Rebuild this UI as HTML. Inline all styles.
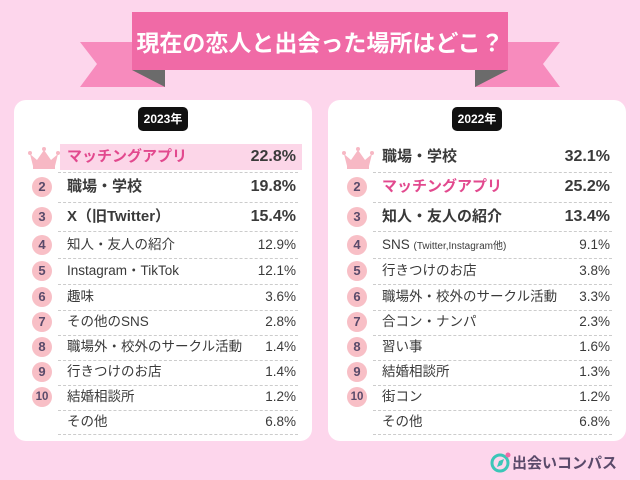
<!DOCTYPE html>
<html><head><meta charset="utf-8"><style>
*{margin:0;padding:0;box-sizing:border-box}
body{width:640px;height:480px;background:#fdd6ec;position:relative;overflow:hidden;font-family:"Liberation Sans","Noto Sans CJK JP",sans-serif;color:#3a3a3a}
.panel{position:absolute;top:100px;width:298px;height:341px;background:#fff;border-radius:12px}
.badge{position:absolute;top:107px;width:50px;height:24px;background:#111;color:#fff;border-radius:5px;font-size:12px;font-weight:bold;text-align:center;line-height:24px}
.lab{position:absolute;white-space:nowrap}
.pct{position:absolute;text-align:right;white-space:nowrap}
.circ{position:absolute;width:20px;height:20px;border-radius:50%;background:#f8bfc6;color:#5a4a6a;font-size:13px;font-weight:bold;text-align:center;line-height:20px}
.sep{position:absolute;height:0;border-top:1px dashed #ccc}
.big{font-size:15px;font-weight:bold}
.sm{font-size:13.5px}
.pink{color:#e2498e}
</style></head><body>
<svg style="position:absolute;left:0;top:0" width="640" height="100">
<polygon points="80,42 165,42 165,87 80,87 97,64" fill="#f78bbd"/>
<polygon points="560,42 475,42 475,87 560,87 543,64" fill="#f78bbd"/>
<polygon points="132,70 165,70 165,87" fill="#6b6b6b"/>
<polygon points="508,70 475,70 475,87" fill="#6b6b6b"/>
<rect x="132" y="12" width="376" height="58" fill="#f06aa6"/>
<text x="320" y="51" text-anchor="middle" fill="#fff" font-size="23" font-weight="bold" font-family="Liberation Sans,Noto Sans CJK JP,sans-serif">現在の恋人と出会った場所はどこ？</text>
</svg>
<div class="panel" style="left:14px"></div>
<div class="panel" style="left:328px"></div>
<div class="badge" style="left:138px">2023年</div>
<div class="badge" style="left:452px">2022年</div>
<div style="position:absolute;left:60px;top:144px;width:242px;height:26px;background:#fcd6e8"></div>
<svg style="position:absolute;left:28px;top:146px" width="32" height="24"><polygon points="2,8 9,14 16,4 23,14 30,8 27,20 5,20" fill="#f7b8c4"/><rect x="5" y="20" width="22" height="3" fill="#f7b8c4"/><circle cx="2" cy="7" r="2" fill="#f7b8c4"/><circle cx="16" cy="3" r="2" fill="#f7b8c4"/><circle cx="30" cy="7" r="2" fill="#f7b8c4"/></svg>
<svg style="position:absolute;left:342px;top:146px" width="32" height="24"><polygon points="2,8 9,14 16,4 23,14 30,8 27,20 5,20" fill="#f7b8c4"/><rect x="5" y="20" width="22" height="3" fill="#f7b8c4"/><circle cx="2" cy="7" r="2" fill="#f7b8c4"/><circle cx="16" cy="3" r="2" fill="#f7b8c4"/><circle cx="30" cy="7" r="2" fill="#f7b8c4"/></svg>
<div id="L"></div>
<script>
const ys=[157,187,217,245,271,297,322,347,372,397,422];
const L=[["マッチングアプリ","22.8%",1],["職場・学校","19.8%"],["X（旧Twitter）","15.4%"],["知人・友人の紹介","12.9%"],["Instagram・TikTok","12.1%"],["趣味","3.6%"],["その他のSNS","2.8%"],["職場外・校外のサークル活動","1.4%"],["行きつけのお店","1.4%"],["結婚相談所","1.2%"],["その他","6.8%"]];
const R=[["職場・学校","32.1%"],["マッチングアプリ","25.2%",1],["知人・友人の紹介","13.4%"],["SNS <span style='font-size:10px'>(Twitter,Instagram他)</span>","9.1%"],["行きつけのお店","3.8%"],["職場外・校外のサークル活動","3.3%"],["合コン・ナンパ","2.3%"],["習い事","1.6%"],["結婚相談所","1.3%"],["街コン","1.2%"],["その他","6.8%"]];
let h="";
function col(d,x0,rEdge){d.forEach((r,i)=>{const y=ys[i];const cls=i<3?"big":"sm";
if(i>0&&i<10)h+=`<div class="circ" style="left:${x0-35}px;top:${y-10}px${i==9?';font-size:11.5px':''}">${i+1}</div>`;
h+=`<div class="lab ${cls} ${r[2]?'pink':''}" style="left:${x0}px;top:${y-12}px;line-height:24px">${r[0]}</div>`;
h+=`<div class="pct ${cls}" style="right:${640-rEdge}px;top:${y-12}px;line-height:24px;font-size:${i<3?16:13.5}px">${r[1]}</div>`;
const sy=i<10?Math.round((y+ys[i+1])/2):434;
h+=`<div class="sep" style="left:${x0-9}px;width:${rEdge-x0+11}px;top:${sy}px"></div>`;});}
col(L,67,296);col(R,382,610);
document.getElementById("L").innerHTML=h;
</script>
<svg style="position:absolute;left:490px;top:452px" width="22" height="22"><circle cx="10" cy="11" r="8" fill="none" stroke="#3cc6b8" stroke-width="3"/><polygon points="7,15 9,9 14,7 12,13" fill="#3cc6b8"/><circle cx="18" cy="3" r="2.5" fill="#f06aa6"/></svg>
<div style="position:absolute;left:512px;top:452px;font-size:15px;color:#5a4a6a;font-weight:bold">出会いコンパス</div>
</body></html>
